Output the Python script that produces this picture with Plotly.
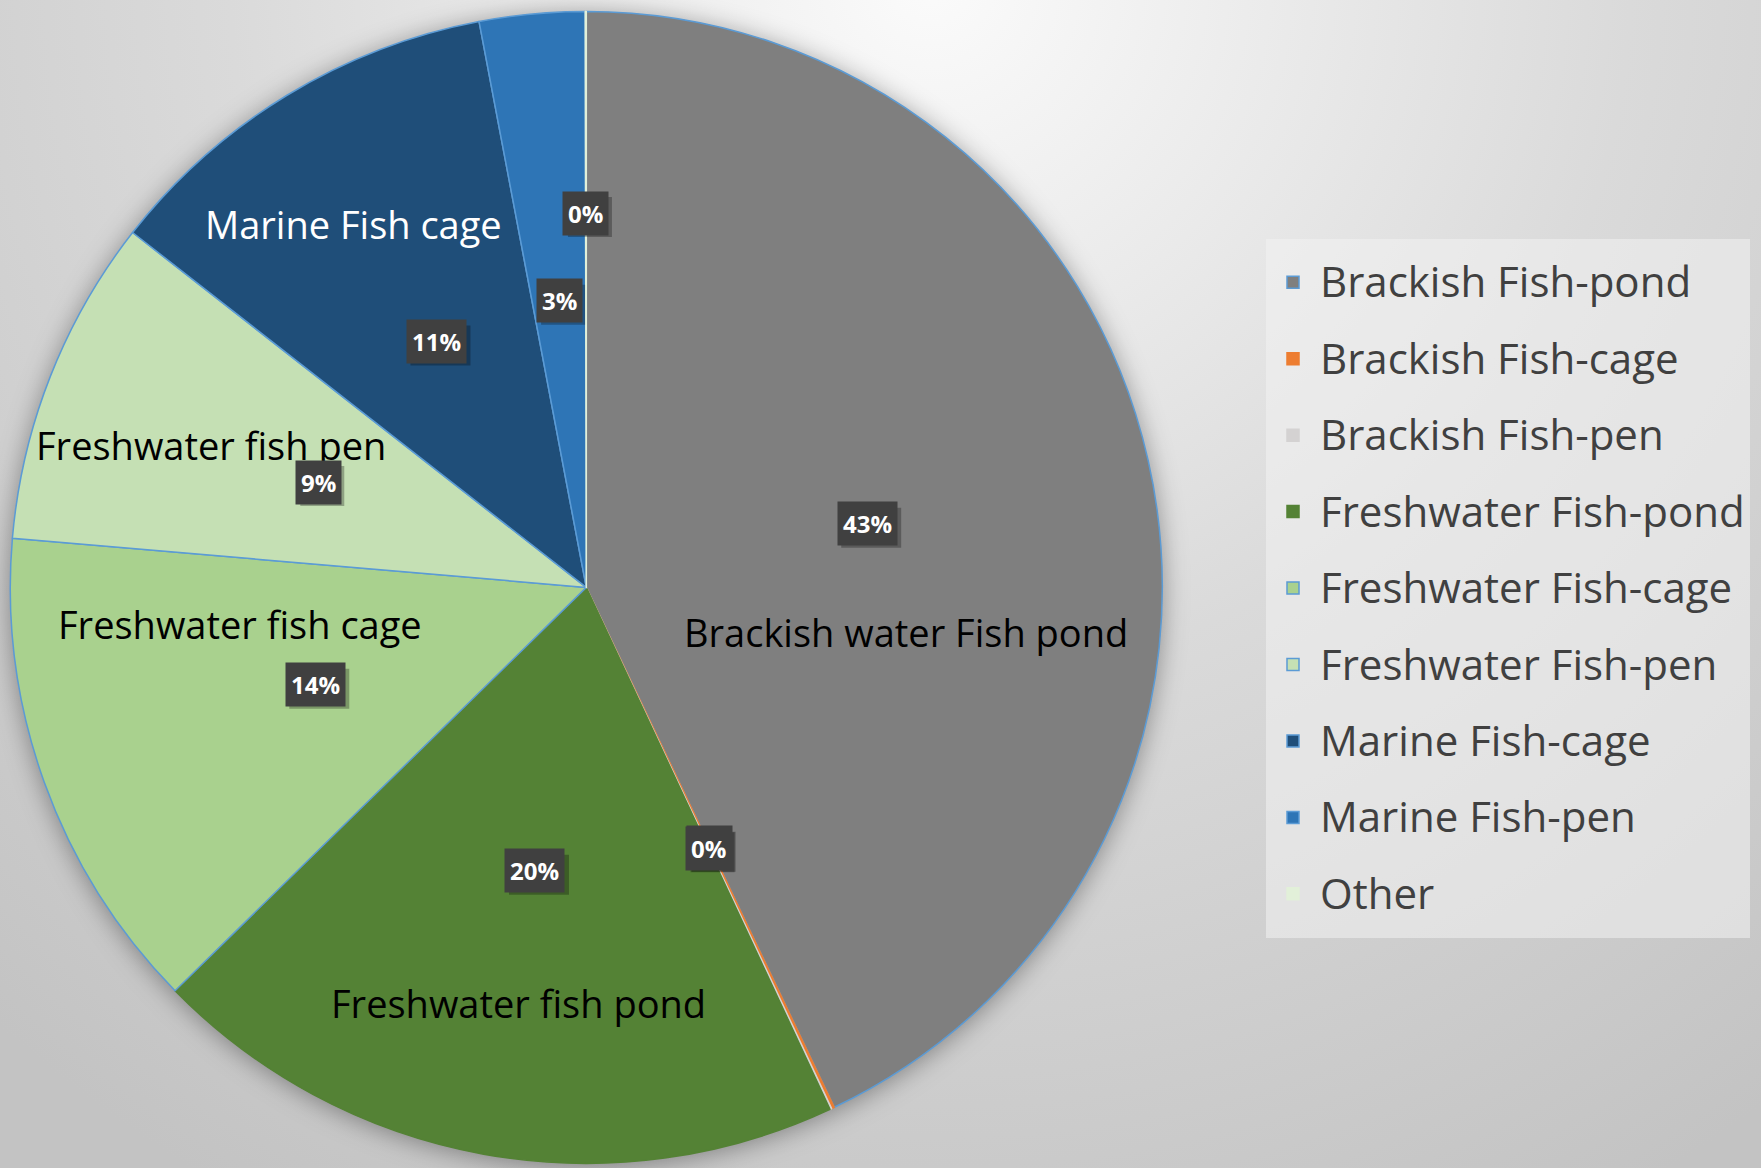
import base64
import numpy as np
import plotly.graph_objects as go

# ---------------- data ----------------
categories = ["Brackish Fish-pond", "Brackish Fish-cage", "Brackish Fish-pen",
              "Freshwater Fish-pond", "Freshwater Fish-cage", "Freshwater Fish-pen",
              "Marine Fish-cage", "Marine Fish-pen", "Other"]
values = [42.9, 0.08, 0.05, 19.6, 13.7, 9.2, 11.45, 2.95, 0.03]

slice_names = ["Brackish water Fish pond", "Freshwater fish pond", "Freshwater fish cage",
               "Freshwater fish pen", "Marine Fish cage"]

# ---------------- style ----------------
W, H = 1761, 1168
colors = ["#7f7f7f", "#ed7d31", "#d4d2d2", "#548235", "#a9d18e",
          "#c5e0b4", "#1f4e79", "#2e75b6", "#e2f0d9"]
border_colors = ["#5b9bd5", "#ed7d31", "#d4d2d2", "#548235", "#5b9bd5",
                 "#5b9bd5", "#5b9bd5", "#5b9bd5", "#e2f0d9"]
label_radius = [0.5, 0.5, 0.5, 0.5, 0.5, 0.5, 0.5, 0.5, 0.65]
name_pos_px = [(906, 632), (518, 1003), (240, 624), (211, 445), (353, 224)]
name_colors = ["#000000", "#000000", "#000000", "#000000", "#ffffff"]

cx_px, cy_px, r_px = 586.3, 587.4, 576.0
dom_x = [(cx_px - r_px) / W, (cx_px + r_px) / W]
dom_y = [1 - (cy_px + r_px) / H, 1 - (cy_px - r_px) / H]

FONT = "Open Sans"

# background: radial gradient + soft shadow under the pie
svg = f"""<svg xmlns='http://www.w3.org/2000/svg' width='{W}' height='{H}'>
<defs>
<radialGradient id='g' gradientUnits='userSpaceOnUse' cx='930' cy='-20' r='1400'>
<stop offset='0' stop-color='#fbfbfb'/><stop offset='0.5' stop-color='#dadada'/><stop offset='1' stop-color='#c3c3c3'/>
</radialGradient>
<filter id='b' x='-20%' y='-20%' width='140%' height='140%'><feGaussianBlur stdDeviation='13'/></filter>
</defs>
<rect width='{W}' height='{H}' fill='url(#g)'/>
<circle cx='{cx_px}' cy='{cy_px + 3}' r='{r_px}' fill='#000' fill-opacity='0.38' filter='url(#b)'/>
</svg>"""
bg_src = "data:image/svg+xml;base64," + base64.b64encode(svg.encode()).decode()

legend_labels = [f"<span style='font-size:42px;baseline-shift:7px'>{c}</span>" for c in categories]

fig = go.Figure()
fig.add_trace(go.Pie(
    labels=legend_labels,
    values=values,
    sort=False,
    direction="clockwise",
    rotation=0,
    textinfo="none",
    hovertext=categories,
    hoverinfo="text+percent",
    marker=dict(colors=colors, line=dict(color=border_colors, width=1.5)),
    domain=dict(x=dom_x, y=dom_y),
))

annotations = []
shapes = []
# slice names
for name, (px, py), col in zip(slice_names, name_pos_px, name_colors):
    annotations.append(dict(x=px / W, y=1 - py / H, xref="paper", yref="paper",
                            text=name, showarrow=False, xanchor="center", yanchor="middle",
                            font=dict(family=FONT, size=38, color=col)))

# percentage labels at slice mid-angles
vals = np.array(values, dtype=float)
total = vals.sum()
cum = np.cumsum(vals) - vals / 2
for v, c, f in zip(vals, cum, label_radius):
    theta = 2 * np.pi * c / total
    lx = cx_px + f * r_px * np.sin(theta)
    ly = cy_px - f * r_px * np.cos(theta)
    txt = f"{100 * v / total:.0f}%"
    ax, ay = lx / W, 1 - ly / H
    half_w = (16 * len(txt) + 12) / 2
    shapes.append(dict(type="rect", xref="paper", yref="paper", layer="above",
                       xsizemode="pixel", ysizemode="pixel", xanchor=ax, yanchor=ay,
                       x0=-half_w + 4, x1=half_w + 4, y0=-20 - 4, y1=20 - 4,
                       fillcolor="rgba(0,0,0,0.28)", line=dict(width=0)))
    annotations.append(dict(x=ax, y=ay, xref="paper", yref="paper", text=txt,
                            showarrow=False, xanchor="center", yanchor="middle", borderpad=5,
                            bgcolor="#404040",
                            font=dict(family=FONT, size=24, color="#ffffff", weight="bold")))

fig.update_layout(
    width=W, height=H,
    margin=dict(l=0, r=0, t=0, b=0),
    paper_bgcolor="#dedede",
    showlegend=True,
    legend=dict(x=1266 / W, y=1 - 239 / H, xanchor="left", yanchor="top",
                bgcolor="rgba(242,242,242,0.55)", borderwidth=0,
                font=dict(family=FONT, size=56.5, color="#404040"),
                itemwidth=44, traceorder="normal"),
    images=[dict(source=bg_src, xref="paper", yref="paper", x=0, y=1, sizex=1, sizey=1,
                 xanchor="left", yanchor="top", sizing="stretch", layer="below")],
    shapes=shapes,
    annotations=annotations,
)

fig.write_html("out.html")
